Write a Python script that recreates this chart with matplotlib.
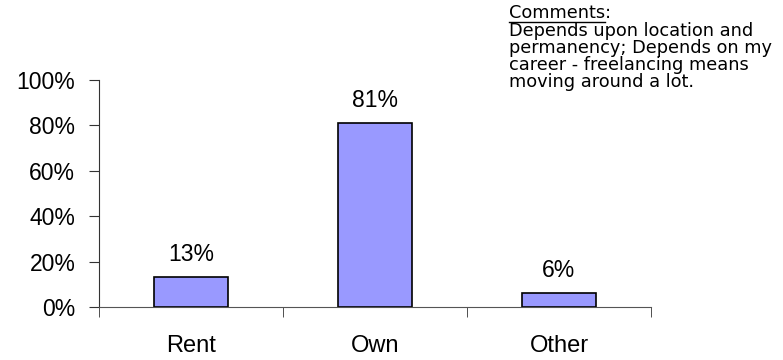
#! /usr/bin/env python3

import matplotlib
matplotlib.use('Agg')
import matplotlib.pyplot as plt
import numpy as np

categories = ["Rent", "Own", "Other"]
shares = [13, 81, 6]
value_labels = ["13%", "81%", "6%"]
y_ticks = [0, 20, 40, 60, 80, 100]
comment_lines = ["Depends upon location and",
                 "permanency; Depends on my",
                 "career - freelancing means",
                 "moving around a lot."]

plt.rcParams['font.family'] = ['Liberation Sans', 'DejaVu Sans']

fig = plt.figure(figsize=(7.83, 3.6), dpi=100)
ax = fig.add_axes([0.1264, 0.1472, 0.7050, 0.6306])

x = np.arange(len(categories))
ax.bar(x, shares, width=0.4, color="#9999ff", edgecolor="black", linewidth=1.2)

for xi, val, lab in zip(x, shares, value_labels):
    ax.text(xi, val + 5, lab, ha="center", va="bottom", fontsize=16.5)

ax.set_xlim(-0.5, len(categories) - 0.5)
ax.set_ylim(0, 100)
ax.set_yticks(y_ticks)
ax.set_yticklabels([f"{t}%" for t in y_ticks], fontsize=16.5)
ax.set_xticks(x)
ax.set_xticklabels(categories, fontsize=17)
ax.tick_params(axis="x", length=0, pad=20)
ax.set_xticks(np.arange(len(categories) + 1) - 0.5, minor=True)
ax.tick_params(axis="x", which="minor", length=7, direction="out", color="#333333")
ax.tick_params(axis="y", length=7, direction="out", color="#333333", pad=10)

for side in ["top", "right"]:
    ax.spines[side].set_visible(False)
ax.spines["left"].set_color("#333333")
ax.spines["bottom"].set_color("#555555")

# comment box in the top right corner
x0 = 509 / 783
fs = 12.8
head = fig.text(x0, 1 - 13 / 360, "Comments", fontsize=fs, family="DejaVu Sans",
                ha="left", va="center")
fig.canvas.draw()
bb = head.get_window_extent().transformed(fig.transFigure.inverted())
fig.text(bb.x1, 1 - 13 / 360, ":", fontsize=fs, family="DejaVu Sans",
         ha="left", va="center")
fig.add_artist(plt.Line2D([bb.x0, bb.x1], [1 - 22 / 360, 1 - 22 / 360],
                          color="black", linewidth=1.0))
for i, line in enumerate(comment_lines):
    fig.text(x0, 1 - (31 + 17 * i) / 360, line, fontsize=fs,
             family="DejaVu Sans", ha="left", va="center")

plt.savefig("out.png", dpi=100)
